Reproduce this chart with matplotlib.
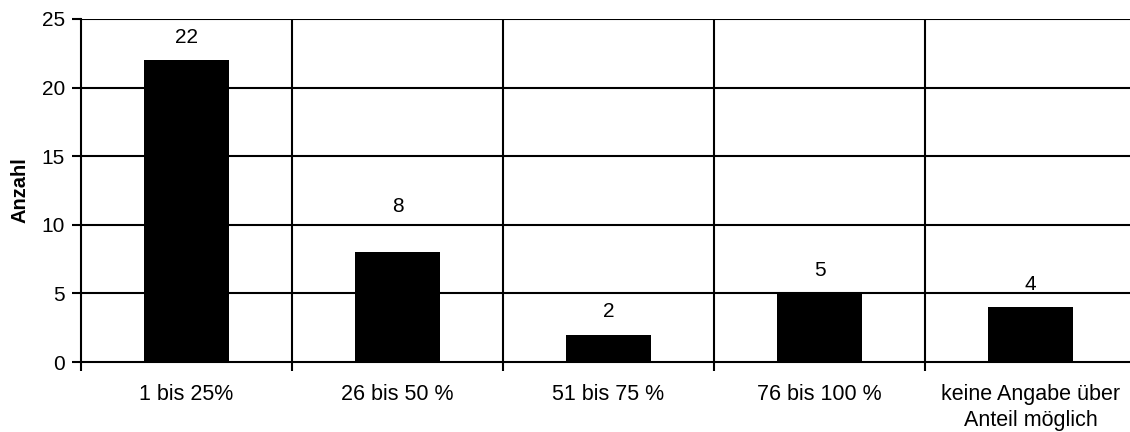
import matplotlib
matplotlib.use("Agg")
import matplotlib.pyplot as plt
import numpy as np

categories = ["1 bis 25%", "26 bis 50 %", "51 bis 75 %", "76 bis 100 %",
              "keine Angabe über\nAnteil möglich"]
values = [22, 8, 2, 5, 4]
y_ticks = [0, 5, 10, 15, 20, 25]

plt.rcParams["font.family"] = ["Liberation Sans", "DejaVu Sans"]

W, H = 1130, 432
fig = plt.figure(figsize=(W / 100, H / 100), dpi=100)
ax = fig.add_axes([81 / W, 70 / H, 1055 / W, 343 / H])

x = np.arange(len(categories))
ax.bar(x, values, width=0.40, color="black", zorder=3)

# value labels sit above each bar; if one would collide with a gridline,
# lift it clear above that line
for xi, v in zip(x, values):
    ly = v + 1.68
    nearest = round(ly / 5) * 5
    if abs(ly - nearest) < 0.5:
        ly = nearest + 1.3
    ax.text(xi, ly, str(v), ha="center", va="center", fontsize=15)

ax.set_xlim(-0.5, len(categories) - 0.5)
ax.set_ylim(0, 25)
ax.set_yticks(y_ticks)

# horizontal grid
for yv in y_ticks[1:]:
    ax.axhline(yv, color="black", lw=1.5, zorder=1)
# category separators
bounds = np.arange(len(categories) + 1) - 0.5
for b in bounds[1:]:
    ax.axvline(b, color="black", lw=1.5, zorder=1)

ax.set_xticks(x)
ax.set_xticklabels(categories, fontsize=15.5, linespacing=1.32)
ax.set_xticks(bounds, minor=True)
ax.tick_params(axis="x", which="major", length=0, pad=15.5)
ax.tick_params(axis="x", which="minor", length=6.5, width=1.5, direction="out")
ax.tick_params(axis="y", length=6.5, width=1.5, pad=5, labelsize=15)

for side in ["top", "right"]:
    ax.spines[side].set_visible(False)
for side in ["left", "bottom"]:
    ax.spines[side].set_linewidth(1.5)
    ax.spines[side].set_zorder(4)

ax.set_ylabel("Anzahl", fontsize=14.5, fontweight="bold", labelpad=9)

fig.savefig("out.png", dpi=100)
